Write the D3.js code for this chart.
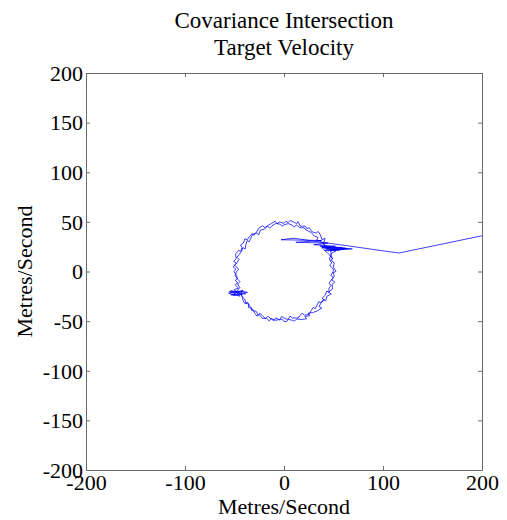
<!DOCTYPE html>
<html><head><meta charset="utf-8">
<script src="https://cdn.jsdelivr.net/npm/d3@7/dist/d3.min.js"></script>
<style>body{margin:0;background:#fff}svg{display:block}text{font-family:"Liberation Serif","Times New Roman",serif;fill:#000}</style>
</head><body><svg id="c" width="507" height="520"></svg>
<script>
const titleLines = ["Covariance Intersection", "Target Velocity"];
const xLabel = "Metres/Second";
const yLabel = "Metres/Second";
const xTicks = [-200, -100, 0, 100, 200];
const yTicks = [-200, -150, -100, -50, 0, 50, 100, 150, 200];
// velocity estimate trajectory [vx, vy] (m/s)
const startSegment = [[200,36],[116,18.6],[10,33.5],[-3,32.0],[38.0,31.2],[12.0,29.4],[44.5,28.6],[30.0,27.0],[52.0,25.5],[38.0,24.2]];
const loop1 = [[46.0,16.8],[48.8,13.1],[47.2,11.4],[50.7,8.9],[49.8,4.4],[52.5,0],[49.6,-1.2],[50.8,-4.4],[48.3,-8.5],[51.2,-10.3],[48.8,-13.1],[48.9,-17.8],[44.9,-20.9],[47.8,-22.6],[43.3,-25.0],[42.2,-29.5],[39.8,-28.1],[37.5,-31.5],[35.4,-35.4],[38.1,-36.9],[33.4,-39.8],[29.0,-41.4],[24.3,-42.0],[26.2,-44.5],[21.1,-45.3],[22.9,-47.6],[17.6,-48.4],[12.8,-47.8],[10.6,-50.1],[8.7,-49.2],[4.2,-48.3],[2.8,-50.3],[0,-50.5],[-2.1,-47.9],[-4.3,-48.8],[-8.2,-46.8],[-10.4,-49.6],[-12.8,-47.8],[-16.4,-45.1],[-18.9,-47.3],[-21.1,-45.3],[-24.3,-42.0],[-26.0,-44.1],[-28.1,-40.1],[-32.8,-39.1],[-33.1,-36.2],[-35.0,-35.0],[-36.8,-30.9],[-39.6,-32.4],[-41.4,-29.0],[-42.4,-24.5],[-45.3,-21.1],
[-55.2,-20.3],[-38.6,-22.4],[-53.8,-23.6],[-41.2,-19.1],[-56.1,-21.8],[-44.5,-24.9],[-50.3,-18.2],
[-46.0,-16.8],[-49.3,-13.2],[-46.9,-11.5],[-49.2,-8.7],[-47.1,-7.3],[-47.8,-4.2],[-50.5,0],[-48.6,2.4],[-51.3,4.5],[-48.3,8.5],[-50.9,10.1],[-48.3,12.9],[-48.9,17.8],[-45.8,21.3],[-43.6,20.4],[-42.4,24.5],[-44.1,26.7],[-41.0,28.7],[-39.5,33.1],[-37.2,31.9],[-35.0,35.0],[-32.1,38.3],[-30.6,36.4],[-27.8,39.7],[-25.3,43.7],[-21.6,46.2],[-19.2,44.1],[-16.8,46.0],[-12.9,48.3],[-8.9,50.7],[-6.8,48.2],[-4.4,49.8],[0,48.5],[1.9,50.6],[4.3,49.3],[6.1,51.4],[8.9,50.2],[12.9,48.3],[14.1,50.2],[16.6,45.6],[21.3,45.8],[23.0,43.2],[25.5,44.2],[28.1,40.1],[32.5,38.7],[34.6,40.3],[36.8,36.8],[38.3,32.1],[41.6,33.4],[39.7,27.8],[43.3,25.0],[46.2,21.6],
[62.0,23.5],[38.5,24.7],[69.0,22.8],[41.0,21.2],[58.7,24.1],[36.2,25.8],[52.4,20.6],[47.9,18.3]];
const loop2 = [[45.9,12.3],[48.3,8.5],[46.1,6.6],[47.8,4.2],[50.2,2.1],[49.5,0],[47.3,-4.1],[49.9,-6.0],[47.8,-8.4],[45.4,-12.2],[47.7,-14.0],[45.6,-16.6],[45.3,-21.1],[43.2,-19.6],[41.6,-24.0],[38.5,-27.0],[40.9,-28.8],[37.2,-31.2],[35.0,-30.4],[33.6,-33.6],[31.5,-37.5],[29.4,-36.2],[27.5,-39.3],[25.0,-43.3],[20.5,-44.0],[18.3,-42.1],[16.1,-44.2],[14.2,-46.9],[12.6,-46.8],[8.3,-46.8],[6.2,-44.9],[4.2,-48.3],[0,-47.0],[-2.3,-45.2],[-4.2,-48.3],[-8.7,-49.2],[-12.7,-47.3],[-14.9,-49.8],[-17.3,-47.5],[-22.0,-47.1],[-25.0,-43.3],[-27.3,-45.0],[-29.5,-42.2],[-31.8,-37.9],[-36.1,-36.1],[-35.2,-33.0],[-38.3,-32.1],[-39.7,-27.8],[-42.9,-24.8],[-43.5,-20.3],
[-36.9,-21.0],[-54.0,-19.5],[-42.3,-23.1],[-51.6,-24.2],
[-44.6,-16.2],[-46.8,-12.6],[-44.5,-10.2],[-46.3,-8.2],[-49.3,-4.3],[-48.0,0],[-45.9,1.8],[-47.3,4.1],[-49.8,6.2],[-47.8,8.4],[-45.4,12.2],[-47.4,14.3],[-45.6,16.6],[-43.0,20.1],[-41.6,24.0],[-39.2,22.8],[-38.5,27.0],[-37.2,31.2],[-35.1,30.0],[-33.6,33.6],[-31.5,37.5],[-27.2,38.9],[-25.6,36.8],[-24.0,41.6],[-19.9,42.6],[-16.6,45.6],[-14.4,43.8],[-12.3,45.9],[-8.5,48.3],[-4.2,47.8],[-2.0,45.6],[0,47.0],[4.2,48.3],[8.2,46.8],[10.1,44.7],[12.6,46.8],[16.1,44.2],[20.5,44.0],[22.3,41.8],[23.8,41.1],[27.5,39.3],[30.2,36.0],[34.3,34.3],[33.1,31.9],[36.4,30.5],[40.1,28.1],[41.6,24.0],[44.9,20.9],
[60.3,22.4],[40.1,23.9],[55.7,21.5],[44.3,24.6],[65.1,23.0],[47.2,20.9],[47.8,16.0],[49.2,12.1]];

const L = 86, R = 482, T = 73, B = 470;
const FS = "22px";
const svg = d3.select("#c");
const x = d3.scaleLinear().domain([-200, 200]).range([L, R]);
const y = d3.scaleLinear().domain([-200, 200]).range([B, T]);
const axisCol = "#6b6b6b";
const fmt = d => String(d);

svg.append("defs").append("clipPath").attr("id", "clip")
  .append("rect").attr("x", L).attr("y", T).attr("width", R - L).attr("height", B - T);

const pts = startSegment.concat(loop1, loop2);
svg.append("path").attr("clip-path", "url(#clip)")
  .attr("d", d3.line().x(d => x(d[0])).y(d => y(d[1]))(pts))
  .attr("fill", "none").attr("stroke", "#0000ff").attr("stroke-width", 0.75).attr("stroke-linejoin", "miter");

// axes (MATLAB box with inward ticks)
const tl = 4;
const gB = svg.append("g").attr("transform", `translate(0,${B})`)
  .call(d3.axisBottom(x).tickValues(xTicks).tickSizeInner(-tl).tickSizeOuter(0).tickFormat(fmt));
const gT = svg.append("g").attr("transform", `translate(0,${T})`)
  .call(d3.axisTop(x).tickValues(xTicks).tickSizeInner(-tl).tickSizeOuter(0).tickFormat(""));
const gL = svg.append("g").attr("transform", `translate(${L},0)`)
  .call(d3.axisLeft(y).tickValues(yTicks).tickSizeInner(-tl).tickSizeOuter(0).tickPadding(3).tickFormat(fmt));
const gR = svg.append("g").attr("transform", `translate(${R},0)`)
  .call(d3.axisRight(y).tickValues(yTicks).tickSizeInner(-tl).tickSizeOuter(0).tickFormat(""));
[gB, gT, gL, gR].forEach(g => {
  g.selectAll("path.domain").attr("stroke", axisCol);
  g.selectAll(".tick line").attr("stroke", axisCol);
  g.selectAll("text").style("font-family", '"Liberation Serif", serif').style("font-size", FS).attr("fill", "#000");
});
gB.selectAll(".tick text").attr("y", 20).attr("dy", "0");
gL.selectAll(".tick text").attr("dy", "0.33em");

svg.append("g").selectAll("text").data(titleLines).join("text")
  .attr("x", x(0)).attr("y", (d, i) => 28 + i * 27).attr("text-anchor", "middle")
  .style("font-size", "23px").text(d => d);
svg.append("text").attr("x", x(0)).attr("y", 514).attr("text-anchor", "middle")
  .style("font-size", FS).text(xLabel);
svg.append("text").attr("transform", `translate(32,${y(0)}) rotate(-90)`).attr("text-anchor", "middle")
  .style("font-size", FS).text(yLabel);
</script></body></html>
